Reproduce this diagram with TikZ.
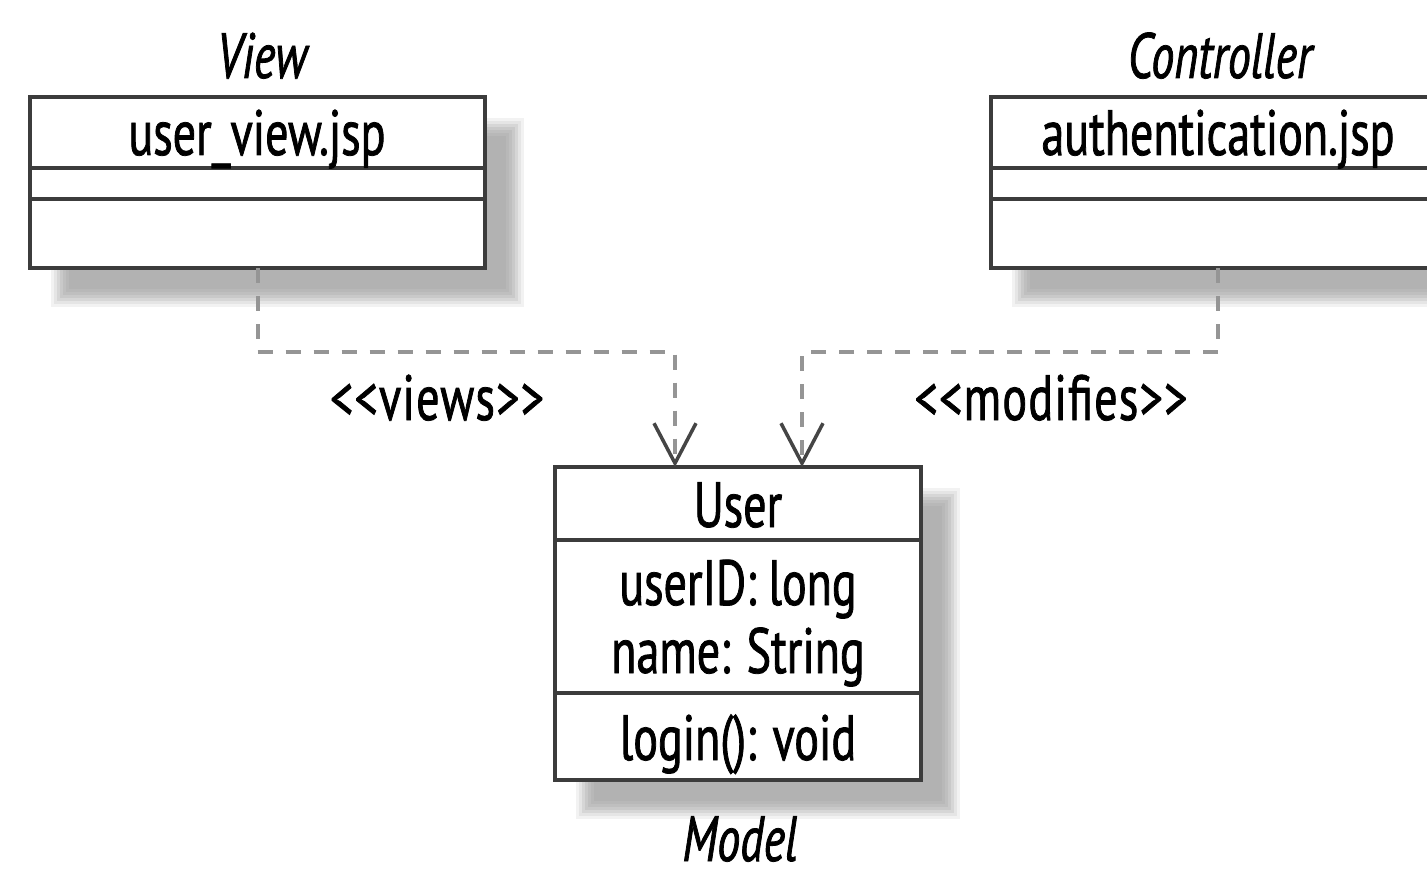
\documentclass[tikz,border=0pt]{standalone}
\usepackage{fontspec}
\setmainfont{PT Sans}[FakeStretch=0.72,FakeBold=1.2]
\usetikzlibrary{arrows.meta}
\definecolor{boxline}{HTML}{3C3C3C}
\definecolor{depline}{HTML}{959595}
\definecolor{tipline}{HTML}{454545}
\newcommand\uSoftShadow[4]{%
  \foreach \r/\c in {9/5,6/10,3/16,0/21,-3/25,-6/28,-9/30}{%
    \fill[black!\c] (#1+30-\r,#2+30-\r) rectangle (#3+30+\r,#4+30+\r);}}
\begin{document}
\begin{tikzpicture}[x=1pt,y=-1pt,
  umlbox/.style={draw=boxline,line width=4pt,fill=white,inner sep=0pt,outer sep=0pt},
  divline/.style={draw=boxline,line width=4pt},
  txt/.style={font=\fontsize{64}{72}\selectfont,inner sep=0pt,anchor=base},
  ttl/.style={font=\fontsize{64}{72}\selectfont\itshape,inner sep=0pt,anchor=base},
  lbl/.style={font=\fontsize{64}{72}\selectfont\addfontfeature{LetterSpace=2}},
  dep/.style={draw=depline,line width=4pt,dash pattern=on 15pt off 13pt,
    -{Straight Barb[length=40pt,width=42pt,line width=3.5pt,color=tipline]}}]
\useasboundingbox (0,0) rectangle (1427,880);
\clip (0,0) rectangle (1427,880);
\fill[white] (0,0) rectangle (1427,880);
% shadows
\uSoftShadow{30}{97}{485}{268}
\uSoftShadow{991}{97}{1445}{268}
\uSoftShadow{555}{467}{921}{780}
% boxes
\node[umlbox,minimum width=455pt,minimum height=171pt] (view) at (257.5,182.5) {};
\node[umlbox,minimum width=454pt,minimum height=171pt] (ctrl) at (1218,182.5) {};
\node[umlbox,minimum width=366pt,minimum height=313pt] (user) at (738,623.5) {};
% dividers
\draw[divline] (view.west |- 0,168) -- (view.east |- 0,168);
\draw[divline] (view.west |- 0,199) -- (view.east |- 0,199);
\draw[divline] (ctrl.west |- 0,168) -- (ctrl.east |- 0,168);
\draw[divline] (ctrl.west |- 0,199) -- (ctrl.east |- 0,199);
\draw[divline] (user.west |- 0,540) -- (user.east |- 0,540);
\draw[divline] (user.west |- 0,693) -- (user.east |- 0,693);
% texts
\node[ttl] (viewttl) at (262,78) {View};
\node[ttl] (ctrlttl) at (1220,78) {Controller};
\node[ttl] (modelttl) at (740,861) {Model};
\node[txt] (viewname) at (257,155) {user\_view.jsp};
\node[txt] (ctrlname) at (1218,155) {authentication.jsp};
\node[txt] (username) at (738,527) {User};
\node[txt] (attr1) at (738,605) {userID: long};
\node[txt] (attr2) at (738,673) {name: String};
\node[txt] (op1) at (738,760) {login(): void};
% connectors
\draw[dep] (view.south) -- ++(0,84) -| ([xshift=-63pt]user.north);
\draw[dep] (ctrl.south) -- ++(0,84) -| ([xshift=64pt]user.north);
\node[txt,lbl] (viewslbl) at (437,420) {<{}<views>{}>};
\node[txt,lbl] (modlbl) at (1051,420) {<{}<modifies>{}>};
\end{tikzpicture}
\end{document}
